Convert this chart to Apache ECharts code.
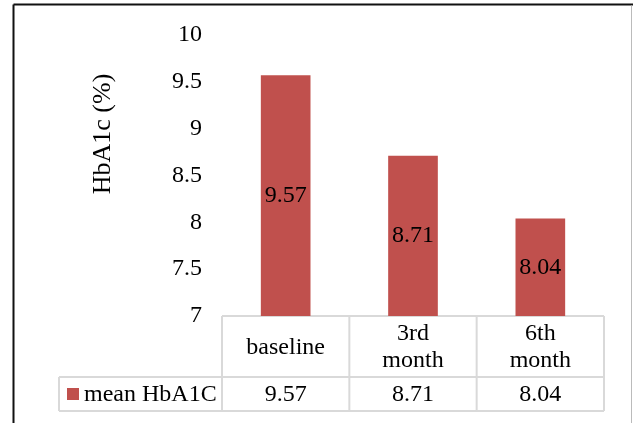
<!DOCTYPE html>
<html>
<head>
<meta charset="utf-8">
<script src="https://cdn.jsdelivr.net/npm/echarts@6/dist/echarts.min.js"></script>
<style>
  html, body { margin: 0; padding: 0; background: #fff; }
  #chart { width: 633px; height: 423px; }
</style>
</head>
<body>
<div id="chart"></div>
<script>
// HbA1c over follow-up visits
const categories = ['baseline', '3rd\nmonth', '6th\nmonth'];
const seriesName = 'mean HbA1C';
const meanHbA1c = [9.57, 8.71, 8.04];
const yMin = 7, yMax = 10, yStep = 0.5;
const yTitle = 'HbA1c (%)';

const FONT = '"Liberation Serif", "Times New Roman", serif';
const FS = 24;
const BAR_COLOR = '#C0504D';
const TABLE_LINE = '#d9d9d9';

const chart = echarts.init(document.getElementById('chart'), null, { renderer: 'canvas' });

const grid = { left: 222, right: 29, top: 35, bottom: 107 };

chart.setOption({
  animation: false,
  backgroundColor: '#fff',
  grid: grid,
  xAxis: {
    type: 'category',
    data: categories,
    axisLine: { show: false },
    axisTick: { show: false },
    axisLabel: { show: false },
    splitLine: { show: false }
  },
  yAxis: {
    type: 'value',
    min: yMin, max: yMax, interval: yStep,
    axisLine: { show: false },
    axisTick: { show: false },
    splitLine: { show: false },
    axisLabel: {
      margin: 20,
      color: '#000',
      fontFamily: FONT,
      fontSize: FS,
      formatter: v => String(v)
    }
  },
  series: [{
    name: seriesName,
    type: 'bar',
    data: meanHbA1c,
    barWidth: '39%',
    itemStyle: { color: BAR_COLOR },
    label: {
      show: true,
      position: 'inside',
      color: '#000',
      fontFamily: FONT,
      fontSize: FS,
      formatter: p => p.value.toFixed(2)
    }
  }]
});

// Data table under the plot, laid out from the category axis positions
function buildTable() {
  const centers = categories.map((c, i) => chart.convertToPixel({ xAxisIndex: 0 }, i));
  const step = centers.length > 1 ? centers[1] - centers[0] : 127;
  const colEdges = [centers[0] - step / 2].concat(centers.map(c => c + step / 2));
  const top = chart.convertToPixel({ yAxisIndex: 0 }, yMin);
  const rowMid = top + 61;
  const rowBottom = top + 95;
  const labelLeft = 59;
  const right = colEdges[colEdges.length - 1];

  const lineStyle = { stroke: TABLE_LINE, lineWidth: 2 };
  const els = [];
  const hline = (x1, x2, y) => els.push({ type: 'line', shape: { x1, y1: y, x2, y2: y }, style: lineStyle, silent: true });
  const vline = (x, y1, y2) => els.push({ type: 'line', shape: { x1: x, y1, x2: x, y2 }, style: lineStyle, silent: true });

  hline(colEdges[0], right, top);
  hline(labelLeft, right, rowMid);
  hline(labelLeft, right, rowBottom);
  colEdges.forEach(x => vline(x, top, rowBottom));
  vline(labelLeft, rowMid, rowBottom);

  const txt = (x, y, s, align) => els.push({
    type: 'text', x, y, silent: true,
    style: { text: s, fill: '#000', font: FS + 'px ' + FONT, align: align || 'center', verticalAlign: 'middle', lineHeight: 27 }
  });

  categories.forEach((c, i) => txt(centers[i], (top + rowMid) / 2 + 1, c));
  meanHbA1c.forEach((v, i) => txt(centers[i], (rowMid + rowBottom) / 2 + 1, v.toFixed(2)));

  // legend key + series name
  els.push({ type: 'rect', shape: { x: 67, y: 388, width: 12, height: 12 }, style: { fill: BAR_COLOR }, silent: true });
  txt(84, (rowMid + rowBottom) / 2 + 1, seriesName, 'left');

  // axis title
  els.push({
    type: 'text', x: 103, y: 134, rotation: Math.PI / 2, silent: true,
    style: { text: yTitle, fill: '#000', font: '26px ' + FONT, align: 'center', verticalAlign: 'middle' }
  });

  // outer frame
  els.push({ type: 'line', shape: { x1: 13.5, y1: 4.5, x2: 633, y2: 4.5 }, style: { stroke: '#111', lineWidth: 2 }, silent: true });
  els.push({ type: 'line', shape: { x1: 13.5, y1: 4.5, x2: 13.5, y2: 423 }, style: { stroke: '#111', lineWidth: 2 }, silent: true });
  els.push({ type: 'line', shape: { x1: 631.5, y1: 5.5, x2: 631.5, y2: 423 }, style: { stroke: '#bbb', lineWidth: 1 }, silent: true });

  chart.setOption({ graphic: { elements: els } });
}
buildTable();
</script>
</body>
</html>
